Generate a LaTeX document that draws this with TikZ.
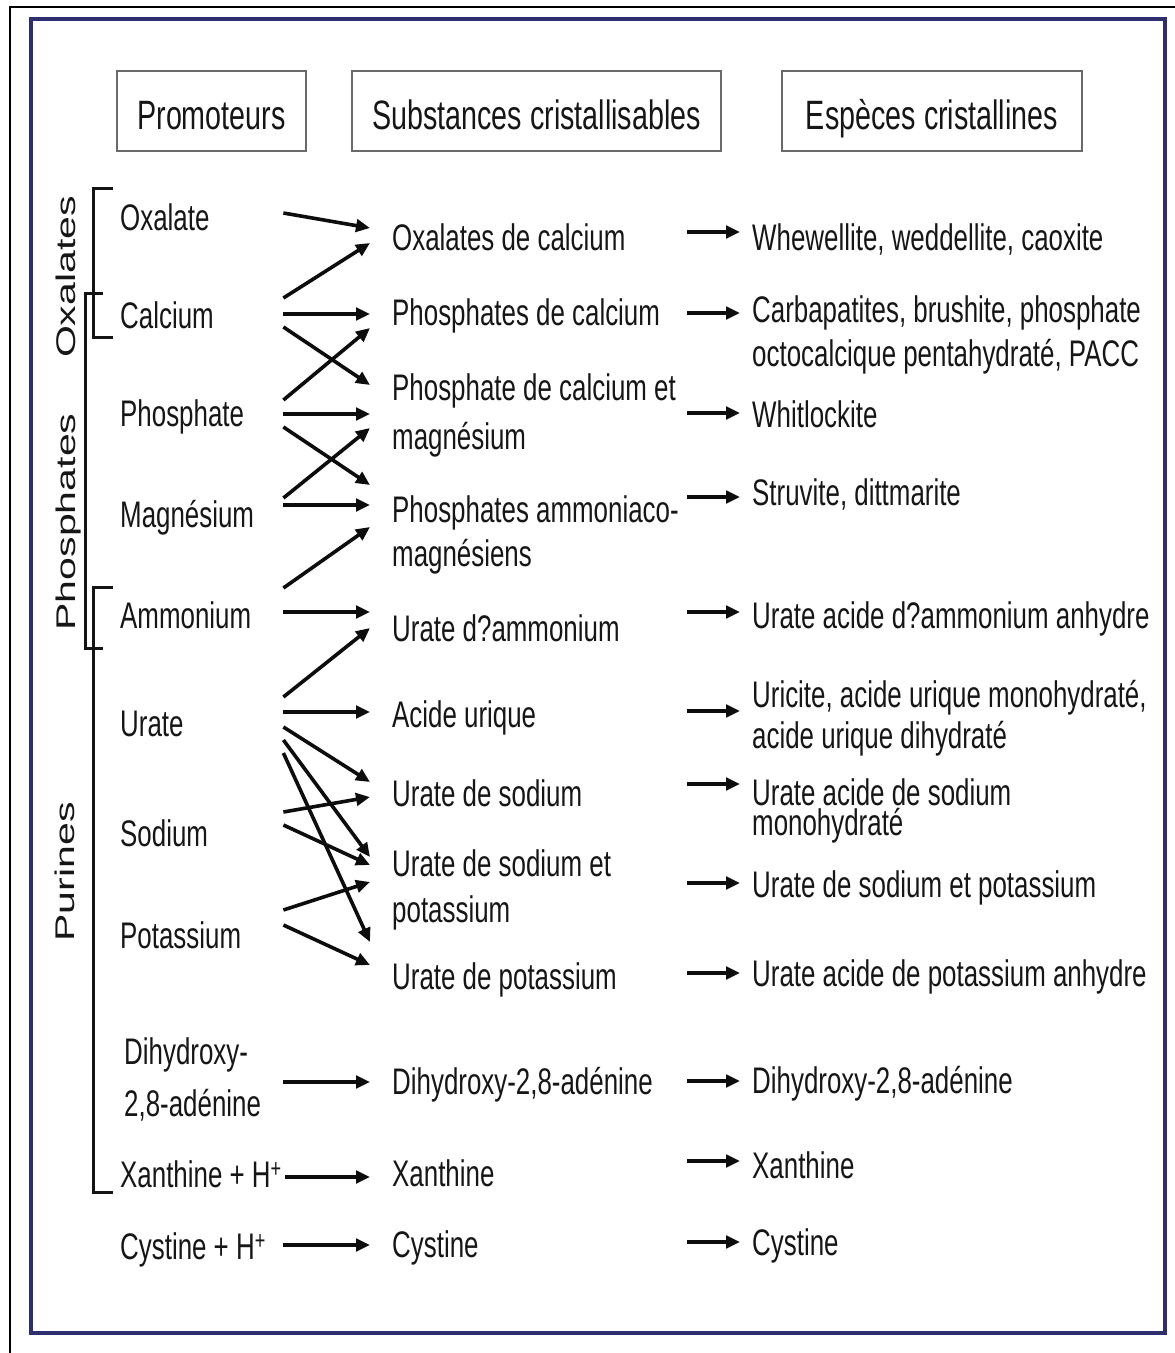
\documentclass[tikz,border=0pt]{standalone}
\usepackage{fontspec}
\setmainfont{Liberation Sans}[FakeStretch=0.7]
\newfontfamily\vfont{Liberation Sans}[FakeStretch=1.52]
\usetikzlibrary{arrows.meta}
\definecolor{navy}{HTML}{2E2E6E}
\definecolor{txt}{HTML}{161616}
\definecolor{boxgray}{HTML}{6A6A6A}
\newcommand{\twoln}[4]{\parbox[t]{#1}{\lineskiplimit=-100pt\baselineskip=#2\raggedright #3\\#4}}
\tikzset{
  hdr/.style={draw=boxgray, line width=1.5pt, inner sep=0pt, minimum height=80pt,
              text height=36pt, text depth=0pt, font=\fontsize{41}{45}\selectfont, text=txt},
  lbl/.style={anchor=base west, inner sep=0pt, font=\fontsize{37}{44}\selectfont, text=txt},
  vlab/.style={anchor=base, rotate=90, inner sep=0pt, font=\vfont\fontsize{27}{30}\selectfont, text=txt},
  arr/.style={line width=3.6pt, draw=black!95, -{Triangle[length=14pt,width=12.5pt]}},
  brk/.style={line width=3pt, draw=black!92},
}
\begin{document}
\begin{tikzpicture}[x=1pt, y=-1pt]
\useasboundingbox (0,0) rectangle (1175,1353);
\fill[white] (0,0) rectangle (1175,1353);
% frames
\draw[line width=1.6pt, black] (10,1353) -- (10,7) -- (1175,7);
\draw[line width=4pt, navy] (31,19) rectangle (1165,1333);
% headers
\node[hdr, minimum width=189pt] (hprom) at (211.5,111) {Promoteurs};
\node[hdr, minimum width=369pt] (hsub) at (536.5,111) {Substances cristallisables};
\node[hdr, minimum width=300pt] (hesp) at (932,111) {Espèces cristallines};
% group labels
\node[vlab] (gox) at (75,277) {Oxalates};
\node[vlab] (gph) at (75,522) {Phosphates};
\node[vlab] (gpu) at (74,872) {Purines};
% brackets
\draw[brk] (113,188) -- (93,188) -- (93,337) -- (113,337);
\draw[brk] (103,293) -- (85,293) -- (85,648) -- (103,648);
\draw[brk] (113,587) -- (93,587) -- (93,1192) -- (113,1192);
% promoteurs
\node[lbl] (oxalate) at (120,230) {\makebox[163pt][l]{Oxalate}};
\node[lbl] (calcium) at (120,328) {\makebox[163pt][l]{Calcium}};
\node[lbl] (phosphate) at (120,426) {\makebox[163pt][l]{Phosphate}};
\node[lbl] (magnesium) at (120,527) {\makebox[163pt][l]{Magnésium}};
\node[lbl] (ammonium) at (120,628) {\makebox[163pt][l]{Ammonium}};
\node[lbl] (urate) at (120,736) {\makebox[163pt][l]{Urate}};
\node[lbl] (sodium) at (120,846) {\makebox[163pt][l]{Sodium}};
\node[lbl] (potassium) at (120,948) {\makebox[163pt][l]{Potassium}};
\node[lbl] (dihyd) at (124,1064) {\twoln{159pt}{52pt}{Dihydroxy-}{2,8-adénine}};
\node[lbl] (xanthine) at (120,1187) {\makebox[163pt][l]{Xanthine + H\textsuperscript{+}}};
\node[lbl] (cystine) at (120,1259) {\makebox[163pt][l]{Cystine + H\textsuperscript{+}}};
% substances
\node[lbl] (oxcal) at (392,250) {\makebox[295pt][l]{Oxalates de calcium}};
\node[lbl] (phoscal) at (392,325) {\makebox[295pt][l]{Phosphates de calcium}};
\node[lbl] (phoscamg) at (392,400) {\twoln{295pt}{49pt}{Phosphate de calcium et}{magnésium}};
\node[lbl] (phosam) at (392,522) {\twoln{295pt}{44pt}{Phosphates ammoniaco-}{magnésiens}};
\node[lbl] (urateam) at (392,641) {\makebox[295pt][l]{Urate d?ammonium}};
\node[lbl] (acideur) at (392,727) {\makebox[295pt][l]{Acide urique}};
\node[lbl] (uratena) at (392,806) {\makebox[295pt][l]{Urate de sodium}};
\node[lbl] (uratenak) at (392,876) {\twoln{295pt}{46pt}{Urate de sodium et}{potassium}};
\node[lbl] (uratek) at (392,989) {\makebox[295pt][l]{Urate de potassium}};
\node[lbl] (dha) at (392,1094) {\makebox[295pt][l]{Dihydroxy-2,8-adénine}};
\node[lbl] (xan) at (392,1186) {\makebox[295pt][l]{Xanthine}};
\node[lbl] (cys) at (392,1257) {\makebox[295pt][l]{Cystine}};
% especes
\node[lbl] (whew) at (752,250) {Whewellite, weddellite, caoxite};
\node[lbl] (carb) at (752,322) {\twoln{410pt}{44pt}{Carbapatites, brushite, phosphate}{octocalcique pentahydraté, PACC}};
\node[lbl] (whit) at (752,427) {Whitlockite};
\node[lbl] (struv) at (752,505) {Struvite, dittmarite};
\node[lbl] (uaam) at (752,628) {Urate acide d?ammonium anhydre};
\node[lbl] (uric) at (752,707) {\twoln{410pt}{41pt}{Uricite, acide urique monohydraté,}{acide urique dihydraté}};
\node[lbl] (uana) at (752,805) {\twoln{410pt}{30pt}{Urate acide de sodium}{monohydraté}};
\node[lbl] (uanak) at (752,897) {Urate de sodium et potassium};
\node[lbl] (uak) at (752,986) {Urate acide de potassium anhydre};
\node[lbl] (dha2) at (752,1093) {Dihydroxy-2,8-adénine};
\node[lbl] (xan2) at (752,1178) {Xanthine};
\node[lbl] (cys2) at (752,1255) {Cystine};
% promoteurs -> substances
\draw[arr] ([yshift=17pt]oxalate.base east) -- ([xshift=-22pt,yshift=22pt]oxcal.base west);
\draw[arr] ([yshift=30pt]calcium.base east) -- ([xshift=-22pt,yshift=7pt]oxcal.base west);
\draw[arr] ([yshift=14pt]calcium.base east) -- ([xshift=-22pt,yshift=11pt]phoscal.base west);
\draw[arr] ([yshift=1pt]calcium.base east) -- ([xshift=-22pt,yshift=15pt]phoscamg.base west);
\draw[arr] ([yshift=26pt]phosphate.base east) -- ([xshift=-22pt,yshift=-3pt]phoscal.base west);
\draw[arr] ([yshift=12pt]phosphate.base east) -- ([xshift=-22pt,yshift=-14pt]phoscamg.base west);
\draw[arr] ([yshift=-1pt]phosphate.base east) -- ([xshift=-22pt,yshift=37pt]phosam.base west);
\draw[arr] ([yshift=29pt]magnesium.base east) -- ([xshift=-22pt,yshift=-28pt]phoscamg.base west);
\draw[arr] ([yshift=22pt]magnesium.base east) -- ([xshift=-22pt,yshift=17pt]phosam.base west);
\draw[arr] ([yshift=40pt]ammonium.base east) -- ([xshift=-22pt,yshift=-5pt]phosam.base west);
\draw[arr] ([yshift=16pt]ammonium.base east) -- ([xshift=-22pt,yshift=29pt]urateam.base west);
\draw[arr] ([yshift=39pt]urate.base east) -- ([xshift=-22pt,yshift=13pt]urateam.base west);
\draw[arr] ([yshift=24pt]urate.base east) -- ([xshift=-22pt,yshift=15pt]acideur.base west);
\draw[arr] ([yshift=9pt]urate.base east) -- ([xshift=-22pt,yshift=24pt]uratena.base west);
\draw[arr] ([yshift=-4pt]urate.base east) -- ([xshift=-22pt,yshift=19pt]uratenak.base west);
\draw[arr] ([yshift=-17pt]urate.base east) -- ([xshift=-22pt,yshift=47pt]uratek.base west);
\draw[arr] ([yshift=34pt]sodium.base east) -- ([xshift=-22pt,yshift=9pt]uratena.base west);
\draw[arr] ([yshift=21pt]sodium.base east) -- ([xshift=-22pt,yshift=11pt]uratenak.base west);
\draw[arr] ([yshift=38pt]potassium.base east) -- ([xshift=-22pt,yshift=-6pt]uratenak.base west);
\draw[arr] ([yshift=23pt]potassium.base east) -- ([xshift=-22pt,yshift=24pt]uratek.base west);
\draw[arr] ([yshift=-18pt]dihyd.base east) -- ([xshift=-22pt,yshift=12pt]dha.base west);
\draw[arr] ([xshift=2pt,yshift=10pt]xanthine.base east) -- ([xshift=-22pt,yshift=9pt]xan.base west);
\draw[arr] ([yshift=14pt]cystine.base east) -- ([xshift=-22pt,yshift=12pt]cys.base west);
% substances -> especes
\draw[arr] ([yshift=18pt]oxcal.base east) -- ([xshift=-12pt,yshift=18pt]whew.base west);
\draw[arr] ([yshift=12pt]phoscal.base east) -- ([xshift=-12pt,yshift=9pt]carb.base west);
\draw[arr] ([yshift=-13pt]phoscamg.base east) -- ([xshift=-12pt,yshift=14pt]whit.base west);
\draw[arr] ([yshift=25pt]phosam.base east) -- ([xshift=-12pt,yshift=8pt]struv.base west);
\draw[arr] ([yshift=29pt]urateam.base east) -- ([xshift=-12pt,yshift=16pt]uaam.base west);
\draw[arr] ([yshift=16pt]acideur.base east) -- ([xshift=-12pt,yshift=-4pt]uric.base west);
\draw[arr] ([yshift=22pt]uratena.base east) -- ([xshift=-12pt,yshift=21pt]uana.base west);
\draw[arr] ([yshift=-7pt]uratenak.base east) -- ([xshift=-12pt,yshift=14pt]uanak.base west);
\draw[arr] ([yshift=16pt]uratek.base east) -- ([xshift=-12pt,yshift=13pt]uak.base west);
\draw[arr] ([yshift=13pt]dha.base east) -- ([xshift=-12pt,yshift=12pt]dha2.base west);
\draw[arr] ([yshift=25pt]xan.base east) -- ([xshift=-12pt,yshift=17pt]xan2.base west);
\draw[arr] ([yshift=15pt]cys.base east) -- ([xshift=-12pt,yshift=13pt]cys2.base west);
\end{tikzpicture}
\end{document}
